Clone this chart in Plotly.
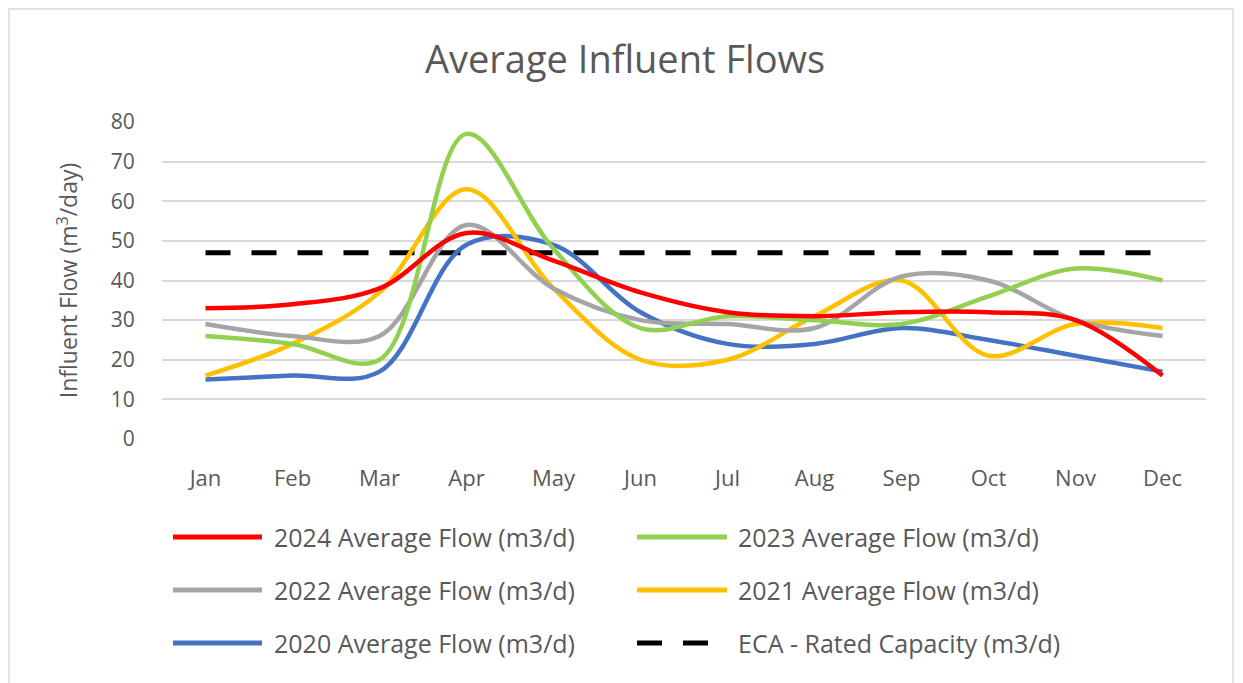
import plotly.graph_objects as go

months = ["Jan", "Feb", "Mar", "Apr", "May", "Jun", "Jul", "Aug", "Sep", "Oct", "Nov", "Dec"]
flow_2024 = [33, 34, 38, 52, 45, 37, 32, 31, 32, 32, 30, 16]
flow_2023 = [26, 24, 20, 77, 48, 28, 31, 30, 29, 36, 43, 40]
flow_2022 = [29, 26, 26, 54, 38, 30, 29, 28, 41, 40, 30, 26]
flow_2021 = [16, 24, 37, 63, 38, 20, 20, 31, 40, 21, 29, 28]
flow_2020 = [15, 16, 17, 49, 49, 32, 24, 24, 28, 25, 21, 17]
eca_capacity = [47] * 12
y_ticks = [0, 10, 20, 30, 40, 50, 60, 70, 80]

names = ["2024 Average Flow (m3/d)", "2023 Average Flow (m3/d)",
         "2022 Average Flow (m3/d)", "2021 Average Flow (m3/d)",
         "2020 Average Flow (m3/d)", "ECA - Rated Capacity (m3/d)"]
colors = ["#FF0000", "#92D050", "#A5A5A5", "#FFC000", "#4472C4", "#000000"]
series = [flow_2024, flow_2023, flow_2022, flow_2021, flow_2020, eca_capacity]

FONT = "Open Sans"
TXT = "#595959"
OFF = 8  # page body margin
W, H = 1243 - OFF, 683 - OFF
L, R, T, B = 162 - OFF, 1206 - OFF, 122 - OFF, 439 - OFF
PW, PH = R - L, B - T

def px(x):
    return (x - OFF - L) / PW

def py(y):
    return (B - (y - OFF)) / PH

fig = go.Figure()
order = [5, 4, 3, 2, 1, 0]
for i in order:
    if i == 5:
        line = dict(color=colors[i], width=5, dash="25px,21px")
    else:
        line = dict(color=colors[i], width=4.5, shape="spline", smoothing=1.0)
    fig.add_trace(go.Scatter(x=months, y=series[i], mode="lines", name=names[i],
                             line=line, showlegend=False, hoverinfo="x+y+name"))

shapes = [dict(type="rect", xref="paper", yref="paper",
               x0=px(9), x1=px(1233), y0=py(690), y1=py(9),
               line=dict(color="#D9D9D9", width=1.5), fillcolor="rgba(0,0,0,0)", layer="below")]
annotations = []
rows = [537, 590, 643]
cols = [(173, 262, 272), (637, 727, 736)]
for k, name in enumerate(names):
    r, c = divmod(k, 2)
    yy = rows[r]
    x0, x1, xt = cols[c]
    ln = dict(color=colors[k], width=5)
    if k == 5:
        ln["dash"] = "25px,21px"
    shapes.append(dict(type="line", xref="paper", yref="paper",
                       x0=px(x0), x1=px(x1), y0=py(yy), y1=py(yy), line=ln))
    annotations.append(dict(text=name, xref="paper", yref="paper", x=px(xt), y=py(yy),
                            xanchor="left", yanchor="middle", showarrow=False,
                            font=dict(family=FONT, size=25, color=TXT)))

fig.update_layout(
    width=W, height=H,
    margin=dict(l=L, r=W - R, t=T, b=H - B),
    paper_bgcolor="white", plot_bgcolor="white",
    title=dict(text="Average Influent Flows", x=(625 - OFF) / W, xref="container",
               xanchor="center", y=1 - (60 - OFF) / H, yref="container", yanchor="middle",
               font=dict(family=FONT, size=38, color=TXT)),
    shapes=shapes, annotations=annotations,
    xaxis=dict(type="category", categoryorder="array", categoryarray=months,
               range=[-0.5, 11.5], showgrid=False, zeroline=False, showline=False,
               ticks="outside", ticklen=20, tickcolor="rgba(0,0,0,0)",
               tickfont=dict(family=FONT, size=22, color=TXT)),
    yaxis=dict(range=[0, 80], tickvals=y_ticks, showgrid=True, gridcolor="#D9D9D9",
               gridwidth=1.5, zeroline=False, showline=False,
               ticks="outside", ticklen=22, tickcolor="rgba(0,0,0,0)",
               tickfont=dict(family=FONT, size=21, color=TXT),
               title=dict(text="Influent Flow (m<sup>3</sup>/day)", standoff=26,
                          font=dict(family=FONT, size=23, color=TXT))),
)

fig.write_html("out.html")
